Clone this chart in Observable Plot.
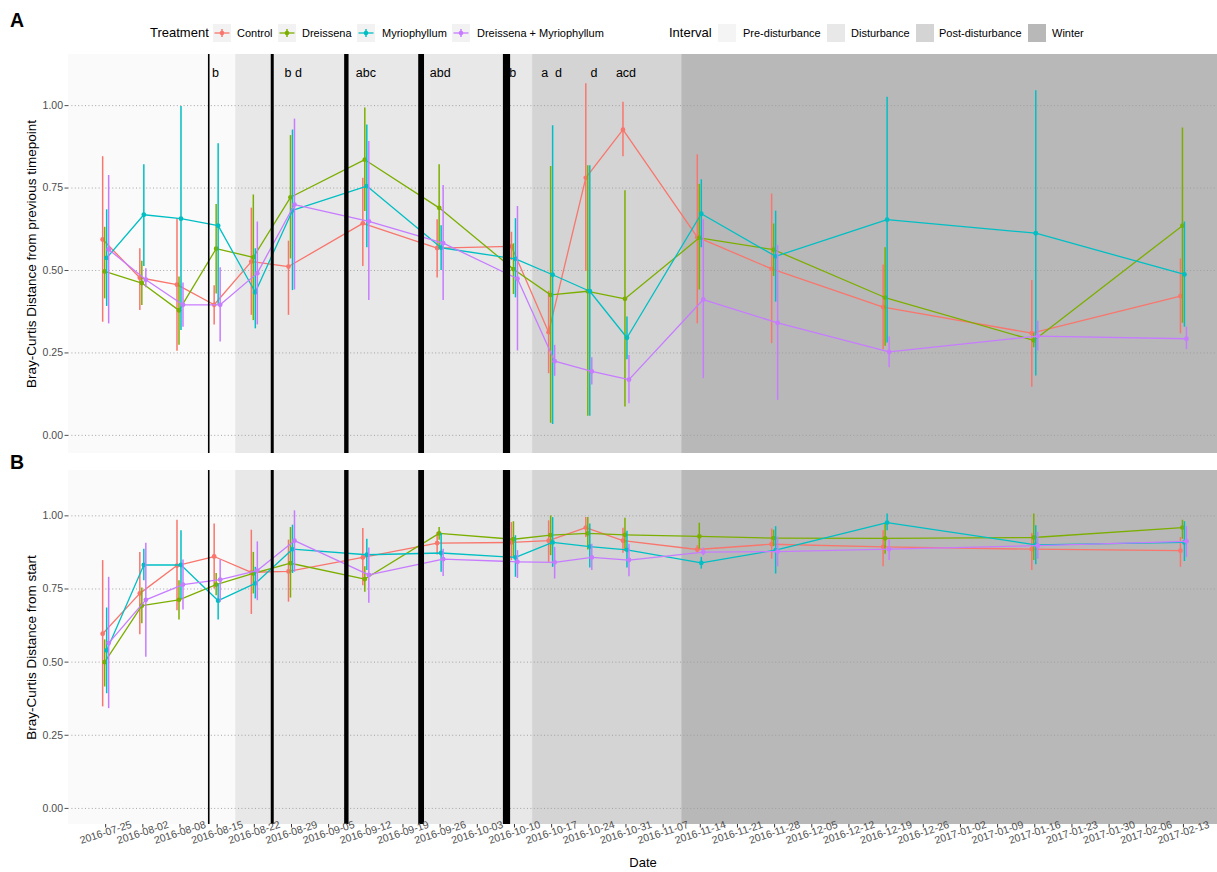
<!DOCTYPE html>
<html><head><meta charset="utf-8">
<script src="https://cdn.jsdelivr.net/npm/d3@7"></script>
<script src="https://cdn.jsdelivr.net/npm/@observablehq/plot@0.6"></script>
<style>
body{margin:0;background:#fff;font-family:"Liberation Sans",Arial,sans-serif;}
#wrap{position:relative;width:1217px;height:872px;overflow:hidden;}
svg text{white-space:pre;}
.abs{position:absolute;white-space:nowrap;}
.panel-lab{position:absolute;font-weight:bold;font-size:19.5px;line-height:1;}
.ltitle{font-size:13px;color:#000;}
.ltext{font-size:11px;color:#000;}
</style></head><body><div id="wrap"></div>
<script>
// ---------- data ----------
const treatments = ["Control", "Dreissena", "Myriophyllum", "Dreissena + Myriophyllum"];
const sampleDates = ["2016-07-25","2016-08-01","2016-08-08","2016-08-15","2016-08-22","2016-08-29","2016-09-12","2016-09-26","2016-10-10","2016-10-17","2016-10-24","2016-10-31","2016-11-14","2016-11-28","2016-12-19","2017-01-16","2017-02-13"];

// Panel A: distance from previous timepoint (mean, lower, upper)
const prevControl    = [0.594,0.478,0.457,0.396,0.527,0.512,0.643,0.568,0.573,0.313,0.781,0.927,0.601,0.505,0.389,0.310,0.422];
const prevControlLo  = [0.343,0.379,0.255,0.335,0.364,0.364,0.512,0.477,0.530,0.187,0.497,0.845,0.338,0.278,0.260,0.146,0.308];
const prevControlHi  = [0.845,0.566,0.657,0.454,0.689,0.589,0.780,0.654,0.616,0.437,1.066,1.010,0.851,0.732,0.517,0.470,0.535];
const prevDreis      = [0.497,0.462,0.379,0.566,0.540,0.722,0.836,0.690,0.504,0.426,0.437,0.414,0.599,0.563,0.418,0.288,0.636];
const prevDreisLo    = [0.414,0.394,0.273,0.429,0.348,0.535,0.679,0.566,0.427,0.037,0.058,0.086,0.441,0.482,0.270,0.266,0.340];
const prevDreisHi    = [0.631,0.528,0.480,0.700,0.729,0.909,0.993,0.821,0.581,0.815,0.818,0.742,0.761,0.641,0.569,0.308,0.932];
const prevMyrio      = [0.538,0.669,0.657,0.636,0.434,0.682,0.756,0.569,0.535,0.487,0.437,0.296,0.672,0.543,0.654,0.613,0.488];
const prevMyrioLo    = [0.391,0.512,0.318,0.394,0.323,0.439,0.569,0.500,0.417,0.033,0.058,0.229,0.569,0.404,0.280,0.180,0.328];
const prevMyrioHi    = [0.684,0.821,0.997,0.884,0.566,0.926,0.941,0.636,0.657,0.939,0.818,0.359,0.775,0.680,1.025,1.045,0.647];
const prevBoth       = [0.564,0.472,0.396,0.396,0.492,0.700,0.649,0.583,0.475,0.225,0.194,0.169,0.412,0.341,0.253,0.301,0.293];
const prevBothLo     = [0.338,0.448,0.328,0.283,0.335,0.441,0.409,0.409,0.256,0.179,0.153,0.096,0.172,0.106,0.205,0.256,0.260];
const prevBothHi     = [0.788,0.505,0.462,0.508,0.647,0.959,0.891,0.758,0.694,0.273,0.235,0.242,0.654,0.576,0.298,0.346,0.328];

// Panel B: distance from start (mean, lower, upper)
const startControl   = [0.597,0.735,0.830,0.861,0.807,0.810,0.858,0.907,0.909,0.915,0.960,0.915,0.885,0.903,0.894,0.886,0.881];
const startControlLo = [0.347,0.594,0.676,0.750,0.663,0.705,0.761,0.866,0.847,0.841,0.926,0.872,0.872,0.852,0.826,0.813,0.824];
const startControlHi = [0.847,0.875,0.985,0.972,0.951,0.917,0.957,0.943,0.977,0.983,0.994,0.958,0.898,0.955,0.949,0.940,0.926];
const startDreis     = [0.500,0.693,0.713,0.765,0.803,0.838,0.784,0.940,0.920,0.934,0.940,0.935,0.930,0.924,0.923,0.926,0.960];
const startDreisLo   = [0.415,0.631,0.644,0.727,0.733,0.719,0.739,0.917,0.858,0.864,0.883,0.878,0.886,0.895,0.869,0.847,0.920];
const startDreisHi   = [0.576,0.753,0.778,0.803,0.875,0.960,0.826,0.960,0.980,1.000,0.994,0.992,0.975,0.951,0.975,1.006,0.985];
const startMyrio     = [0.540,0.832,0.832,0.710,0.769,0.886,0.867,0.873,0.858,0.909,0.895,0.884,0.839,0.883,0.977,0.901,0.909];
const startMyrioLo   = [0.392,0.778,0.716,0.644,0.716,0.803,0.813,0.807,0.790,0.824,0.822,0.822,0.818,0.801,0.949,0.833,0.844];
const startMyrioHi   = [0.685,0.886,0.949,0.767,0.824,0.968,0.920,0.940,0.932,0.994,0.972,0.947,0.858,0.963,1.006,0.966,0.980];
const startBoth      = [0.565,0.713,0.765,0.782,0.813,0.915,0.798,0.852,0.843,0.841,0.858,0.849,0.876,0.878,0.886,0.898,0.913];
const startBothLo    = [0.341,0.517,0.678,0.705,0.710,0.807,0.701,0.793,0.786,0.784,0.813,0.792,0.864,0.826,0.847,0.852,0.858];
const startBothHi    = [0.790,0.906,0.849,0.849,0.911,1.017,0.890,0.886,0.881,0.892,0.903,0.903,0.890,0.928,0.920,0.943,0.963];

// significance letters (panel A)
const letterDates = ["2016-08-15","2016-08-29","2016-09-12","2016-09-26","2016-10-10","2016-10-17","2016-10-24","2016-10-31"];
const letterLabels = [" b  "," b d","abc","abd"," b  ","a  d","   d","acd"];
const letterLevel = 1.1;

// disturbance events (vertical lines) and their magnitude
const disturbanceDates = ["2016-08-13T10:00:00Z","2016-08-25T09:00:00Z","2016-09-08T08:00:00Z","2016-09-22T10:00:00Z","2016-10-08T12:00:00Z"];
const disturbanceLevel = [1, 2, 3, 4, 5];

// intervals
const intervals = ["Pre-disturbance", "Disturbance", "Post-disturbance", "Winter"];
const intervalStart = ["2016-07-18T00:00:00Z","2016-08-18T12:00:00Z","2016-10-13T10:00:00Z","2016-11-10T12:00:00Z"];
const intervalEnd   = ["2016-08-18T12:00:00Z","2016-10-13T10:00:00Z","2016-11-10T12:00:00Z","2017-02-19T10:00:00Z"];

// axis ticks
const tickLabels = ["2016-07-25","2016-08-02","2016-08-08","2016-08-15","2016-08-22","2016-08-29","2016-09-05","2016-09-12","2016-09-19","2016-09-26","2016-10-03","2016-10-10","2016-10-17","2016-10-24","2016-10-31","2016-11-07","2016-11-14","2016-11-21","2016-11-28","2016-12-05","2016-12-12","2016-12-19","2016-12-26","2017-01-02","2017-01-09","2017-01-16","2017-01-23","2017-01-30","2017-02-06","2017-02-13"];
const yTicks = [0, 0.25, 0.5, 0.75, 1];

// ---------- styles ----------
const colors = ["#F8766D", "#7CAE00", "#00BFC4", "#C77CFF"];
const intervalFill = ["#FAFAFA", "#E8E8E8", "#D4D4D4", "#B8B8B8"];
const dodge = [-3, -1, 1, 3];
const xDomain = [new Date("2016-07-18T00:00:00Z"), new Date("2017-02-19T10:00:00Z")];
const yDomain = [-0.055, 1.155];
const FONT = "Liberation Sans, Arial, Helvetica, sans-serif";

// ---------- build ----------
const parse = s => new Date(s.length === 10 ? s + "T00:00:00Z" : s);
function rows(mean, lo, hi) {
  return sampleDates.map((d, i) => ({date: parse(d), mean: mean[i], lo: lo[i], hi: hi[i]}));
}
const panelA = [rows(prevControl, prevControlLo, prevControlHi), rows(prevDreis, prevDreisLo, prevDreisHi),
                rows(prevMyrio, prevMyrioLo, prevMyrioHi), rows(prevBoth, prevBothLo, prevBothHi)];
const panelB = [rows(startControl, startControlLo, startControlHi), rows(startDreis, startDreisLo, startDreisHi),
                rows(startMyrio, startMyrioLo, startMyrioHi), rows(startBoth, startBothLo, startBothHi)];
const intervalRows = intervals.map((n, i) => ({name: n, x1: parse(intervalStart[i]), x2: parse(intervalEnd[i]), fill: intervalFill[i]}));
const disturbRows = disturbanceDates.map((d, i) => ({date: parse(d), level: disturbanceLevel[i]}));
const letterRows = letterDates.map((d, i) => ({date: parse(d), label: letterLabels[i]}));
const tickDates = d3.utcMonday.range(parse("2016-07-25"), parse("2017-02-14"));
const tickRows = tickDates.map((d, i) => ({date: d, label: tickLabels[i]}));

function panel(series, {height, marginBottom, yTitle, withLetters, withXAxis}) {
  const marks = [];
  intervalRows.forEach(r => marks.push(
    Plot.rect([r], {x1: "x1", x2: "x2", y1: () => yDomain[0], y2: () => yDomain[1], fill: r.fill})));
  marks.push(Plot.ruleY(yTicks, {stroke: "#9c9c9c", strokeWidth: 0.9, strokeDasharray: "1,2.4"}));
  series.forEach((data, k) => {
    marks.push(Plot.ruleX(data, {x: "date", y1: "lo", y2: "hi", stroke: colors[k], strokeWidth: 1.5, dx: dodge[k]}));
    marks.push(Plot.line(data, {x: "date", y: "mean", stroke: colors[k], strokeWidth: 1.3, dx: dodge[k]}));
    marks.push(Plot.dot(data, {x: "date", y: "mean", fill: colors[k], r: 2.4, dx: dodge[k]}));
  });
  marks.push(Plot.ruleX(disturbRows, {x: "date", stroke: "black", strokeWidth: d => 0.2 + 1.4 * d.level}));
  if (withLetters) {
    marks.push(Plot.text(letterRows, {x: "date", y: () => letterLevel, text: "label", fontSize: 12.5, fill: "black"}));
  }
  marks.push(Plot.axisY(yTicks, {tickFormat: d3.format(".2f"), tickSize: 3.5, tickPadding: 2, fontSize: 10.5, color: "#4d4d4d", label: null}));
  marks.push(Plot.text([yTitle], {text: d => d, frameAnchor: "left", textAnchor: "middle", lineAnchor: "middle",
    rotate: -90, dx: -37, fontSize: 13.5, fill: "black"}));
  if (withXAxis) {
    marks.push(Plot.axisX(tickDates, {tickFormat: () => "", tickSize: 3.5, color: "#333333", label: null}));
    marks.push(Plot.text(tickRows, {x: "date", text: "label", frameAnchor: "bottom", dy: 8, rotate: -18,
      fontSize: 10.5, fill: "#4d4d4d", textAnchor: "middle", lineAnchor: "middle"}));
    marks.push(Plot.text(["Date"], {text: d => d, frameAnchor: "bottom", textAnchor: "middle", lineAnchor: "middle",
      dy: 38, fontSize: 13, fill: "black"}));
  }
  return Plot.plot({
    width: 1217, height, marginLeft: 68, marginRight: 0, marginTop: 0, marginBottom,
    x: {type: "utc", domain: xDomain, axis: null},
    y: {domain: yDomain, axis: null},
    style: {fontFamily: FONT, background: "transparent", overflow: "visible"},
    marks
  });
}

const wrap = document.getElementById("wrap");
const svgA = panel(panelA, {height: 399, marginBottom: 0, yTitle: "Bray-Curtis Distance from previous timepoint", withLetters: true, withXAxis: false});
svgA.style.position = "absolute"; svgA.style.left = "0px"; svgA.style.top = "54px";
wrap.appendChild(svgA);
const svgB = panel(panelB, {height: 402, marginBottom: 48, yTitle: "Bray-Curtis Distance from start", withLetters: false, withXAxis: true});
svgB.style.position = "absolute"; svgB.style.left = "0px"; svgB.style.top = "470px";
wrap.appendChild(svgB);

// panel labels
function addDiv(html, cls, left, top) {
  const d = document.createElement("div");
  d.className = cls; d.innerHTML = html;
  d.style.left = left + "px"; d.style.top = top + "px";
  wrap.appendChild(d); return d;
}
addDiv("A", "panel-lab", 10, 11);
addDiv("B", "panel-lab", 10, 453);

// legend
const legendY = 32.5;
function addText(txt, cls, left) {
  const d = document.createElement("div");
  d.className = "abs " + cls; d.textContent = txt;
  d.style.left = left + "px"; d.style.top = (legendY - 8) + "px"; d.style.lineHeight = "16px";
  wrap.appendChild(d);
}
function addKey(left, inner) {
  const d = document.createElement("div");
  d.className = "abs";
  d.style.left = left + "px"; d.style.top = (legendY - 9) + "px";
  d.innerHTML = `<svg width="18" height="18" style="display:block">${inner}</svg>`;
  wrap.appendChild(d);
}
addText("Treatment", "ltitle", 150);
const tKeyX = [213, 278, 357, 452];
const tTextX = [237, 302, 382, 477];
treatments.forEach((t, i) => {
  const c = colors[i];
  addKey(tKeyX[i], `<rect width="18" height="18" fill="#F2F2F2"/><line x1="1.5" x2="16.5" y1="9" y2="9" stroke="${c}" stroke-width="1.3"/><line x1="9" x2="9" y1="5" y2="13" stroke="${c}" stroke-width="1.5"/><circle cx="9" cy="9" r="2.3" fill="${c}"/>`);
  addText(t, "ltext", tTextX[i]);
});
addText("Interval", "ltitle", 669);
const iKeyX = [718, 827, 916, 1028];
const iTextX = [743, 851, 939, 1052];
intervals.forEach((n, i) => {
  addKey(iKeyX[i], `<rect width="18" height="18" fill="${intervalFill[i] === "#FAFAFA" ? "#F4F4F4" : intervalFill[i]}"/>`);
  addText(n, "ltext", iTextX[i]);
});
</script></body></html>
